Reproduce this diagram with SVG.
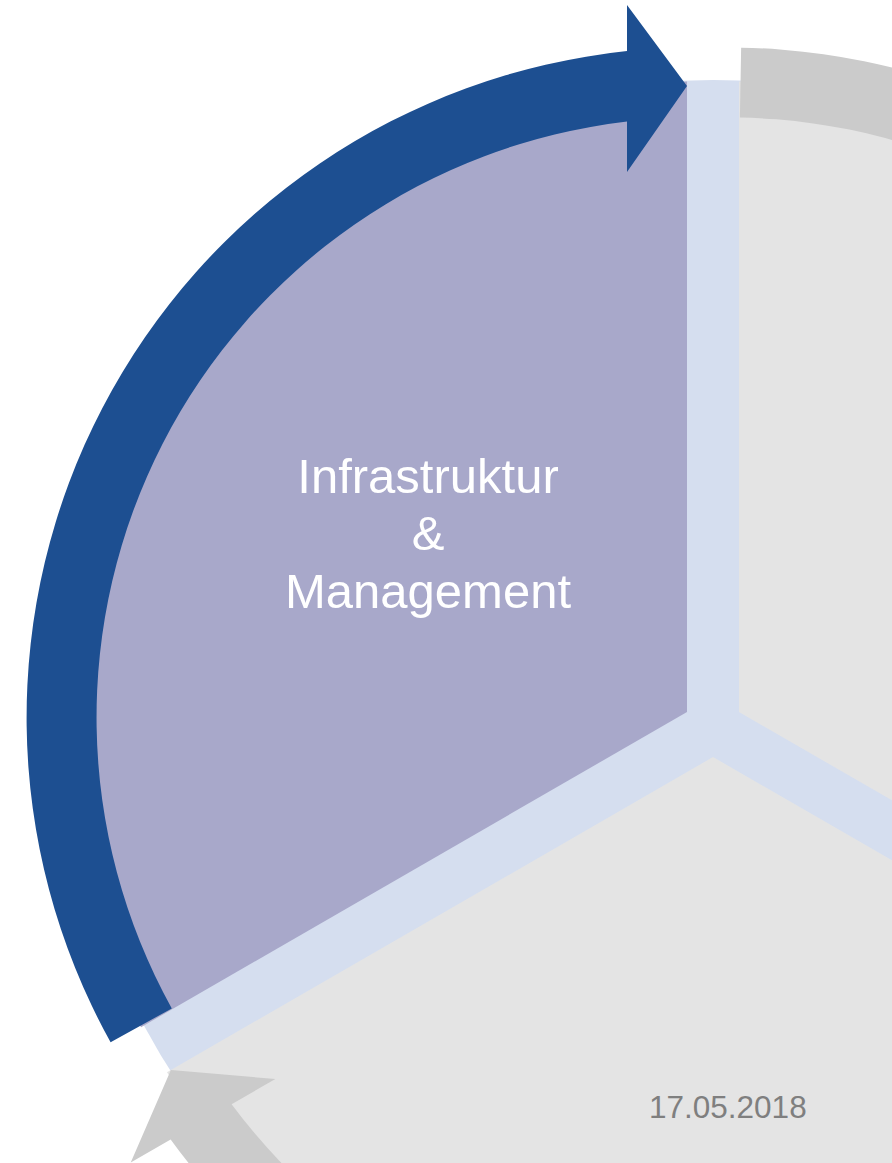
<svg xmlns="http://www.w3.org/2000/svg" xmlns:xlink="http://www.w3.org/1999/xlink" width="892" height="1163" viewBox="0 0 892 1163">
  <style>
    .bg { fill: #D5DEEF; }
    .sector-active { fill: #A8A8CA; }
    .sector { fill: #E4E4E4; }
    .arrow-active { fill: #1D4F91; }
    .arrow { fill: #CBCBCB; }
    .label { font-family: "Liberation Sans", Arial, sans-serif; font-size: 49px; fill: #FFFFFF; text-anchor: middle; }
    .date { font-family: "Liberation Sans", Arial, sans-serif; font-size: 31.5px; fill: #7F7F7F; }
  </style>
  <defs>
    <path id="sectorShape" d="M687,712 L687,81.5 A646,646 0 0 0 141,1027.2 Z"/>
    <path id="arrowShape" d="M110.6,1042.3 A670,670 0 0 1 627,51.1 L627,5 L687,86 L627,172 L627,121.5 A600,600 0 0 0 171.8,1008.4 Z"/>
  </defs>
  <rect width="892" height="1163" fill="#FFFFFF"/>
  <circle class="bg" cx="713" cy="724" r="644"/>
  <g id="node-infrastruktur">
    <use xlink:href="#sectorShape" class="sector-active"/>
    <text class="label" x="428" y="493">Infrastruktur</text>
    <text class="label" x="428" y="550">&amp;</text>
    <text class="label" x="428" y="608">Management</text>
  </g>
  <g id="node-right">
    <use xlink:href="#sectorShape" class="sector" transform="rotate(120 713 727)"/>
  </g>
  <g id="node-bottom">
    <use xlink:href="#sectorShape" class="sector" transform="rotate(240 713 727)"/>
  </g>
  <g id="connectors">
    <use xlink:href="#arrowShape" class="arrow" transform="rotate(120 713 727)"/>
    <use xlink:href="#arrowShape" class="arrow" transform="rotate(240 713 727)"/>
    <use xlink:href="#arrowShape" class="arrow-active"/>
  </g>
  <text class="date" x="649" y="1118">17.05.2018</text>
</svg>
